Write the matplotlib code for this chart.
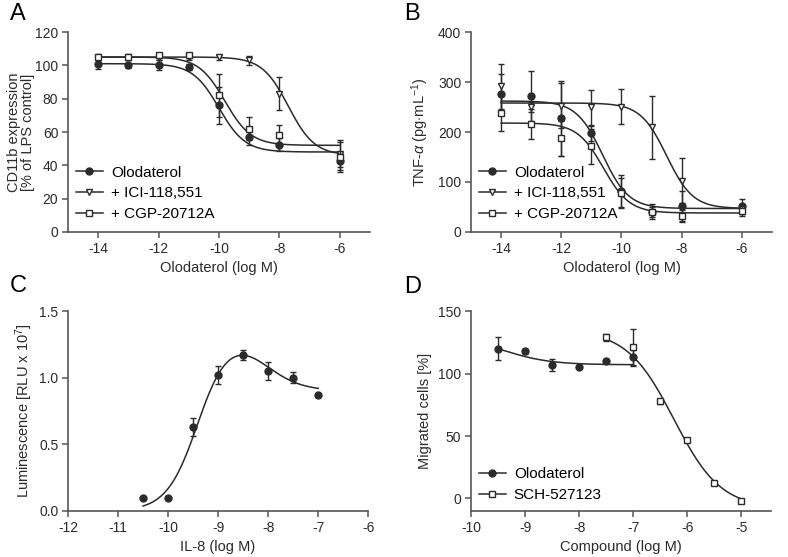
import numpy as np
import matplotlib
matplotlib.use('Agg')
import matplotlib.pyplot as plt

plt.rcParams['font.family'] = ['Liberation Sans', 'DejaVu Sans']
plt.rcParams['mathtext.fontset'] = 'custom'
plt.rcParams['mathtext.rm'] = 'Liberation Sans'
plt.rcParams['mathtext.it'] = 'Liberation Sans:italic'
plt.rcParams['axes.unicode_minus'] = False

# ---- panel A: CD11b expression ----
a_x = [-14, -13, -12, -11, -10, -9, -8, -6]
a_olo = [101, 100, 100, 99, 76, 57, 52.5, 42.5]
a_olo_err = [3, 1.5, 3, 2, 11, 5, 4, 5]
a_ici = [105, 105, 105, 105, 105, 103, 83, 47]
a_ici_err = [1.5, 1.5, 1.5, 1.5, 1.5, 2.5, 10, 8]
a_cgp = [105, 105, 106, 106, 82, 62, 58, 45]
a_cgp_err = [1.5, 1.5, 1.5, 1.5, 13, 7, 6, 9]
# fitted curves: top, bottom, logEC50, hill
a_fit_olo = [101, 48, -10.0, 1.0]
a_fit_ici = [105, 46, -7.7, 1.0]
a_fit_cgp = [105, 52, -9.8, 1.0]

# ---- panel B: TNF-alpha ----
b_x = [-14, -13, -12, -11, -10, -9, -8, -6]
b_olo = [277, 272, 228, 198, 82, 40, 52, 51]
b_olo_err = [40, 50, 75, 15, 33, 15, 30, 15]
b_ici = [292, 250, 253, 250, 251, 210, 103, 45]
b_ici_err = [45, 10, 45, 35, 35, 63, 45, 8]
b_cgp = [238, 216, 188, 172, 78, 40, 32, 42]
b_cgp_err = [35, 30, 35, 35, 30, 10, 12, 10]
b_fit_olo = [262, 47, -10.63, 1.0]
b_fit_ici = [258, 47, -8.5, 1.0]
b_fit_cgp = [218, 38, -10.6, 1.0]

# ---- panel C: luminescence ----
c_x = [-10.5, -10, -9.5, -9, -8.5, -8, -7.5, -7]
c_y = [0.10, 0.10, 0.63, 1.02, 1.17, 1.05, 1.00, 0.87]
c_err = [0, 0, 0.07, 0.07, 0.04, 0.07, 0.04, 0.01]
# bell-shaped fit: rise top, rise logEC50, rise hill, fall depth, fall logEC50, fall hill
c_fit = [1.35, -9.4, 1.4, 0.45, -8.1, 1.2]

# ---- panel D: migration ----
d_olo_x = [-9.5, -9, -8.5, -8, -7.5, -7]
d_olo = [120, 118, 107, 105, 110, 113]
d_olo_err = [9, 2, 5, 0, 0, 6]
d_sch_x = [-7.5, -7, -6.5, -6, -5.5, -5]
d_sch = [129, 121, 78, 47, 12, -2]
d_sch_err = [3, 15, 2, 1, 1, 1]
d_fit_olo = [130, 107, -9.4, 1.0]
d_fit_sch = [135, -8, -6.25, 1.0]

dark = '#2b2b2b'
gray = '#555555'
MS = 5


def sig(x, p):
    top, bot, ec, h = p
    return bot + (top - bot) / (1 + 10 ** ((x - ec) * h))


def style(ax):
    for s in ['top', 'right']:
        ax.spines[s].set_visible(False)
    for s in ['left', 'bottom']:
        ax.spines[s].set_color(gray)
        ax.spines[s].set_linewidth(1.2)
    ax.tick_params(colors=gray, labelcolor=dark, labelsize=10, width=1.1, length=4, pad=3)


def series(ax, x, y, err, marker, face, label, fit, xr):
    xs = np.linspace(xr[0], xr[1], 200)
    ax.plot(xs, fit(xs), color=dark, lw=1.1)
    ax.errorbar(x, y, yerr=err, fmt='none', ecolor=dark, elinewidth=1.0, capsize=2.5)
    ax.plot(x, y, ls='none', marker=marker, ms=MS, mfc=face, mec=dark, mew=1.0)
    ax.plot([], [], color=dark, lw=1.1, marker=marker, ms=MS, mfc=face, mec=dark, label=label)


fig = plt.figure(figsize=(7.88, 5.57), dpi=100)
axA = fig.add_axes([0.0863, 0.5835, 0.383, 0.359])
axB = fig.add_axes([0.5977, 0.5835, 0.382, 0.359])
axC = fig.add_axes([0.0863, 0.0826, 0.381, 0.359])
axD = fig.add_axes([0.5977, 0.0826, 0.381, 0.359])

# A
series(axA, a_x, a_olo, a_olo_err, 'o', dark, 'Olodaterol', lambda t: sig(t, a_fit_olo), (-14, -6))
series(axA, a_x, a_ici, a_ici_err, 'v', 'white', '+ ICI-118,551', lambda t: sig(t, a_fit_ici), (-14, -6))
series(axA, a_x, a_cgp, a_cgp_err, 's', 'white', '+ CGP-20712A', lambda t: sig(t, a_fit_cgp), (-14, -6))
axA.set_xlim(-15, -5)
axA.set_ylim(0, 120)
axA.set_xticks([-14, -12, -10, -8, -6])
axA.set_yticks(range(0, 121, 20))
axA.set_xlabel('Olodaterol (log M)', fontsize=10.5, color=dark)
axA.set_ylabel('CD11b expression\n[% of LPS control]', fontsize=10.5, color=dark, linespacing=1.0)
axA.yaxis.set_label_coords(-0.11, 0.5)

# B
series(axB, b_x, b_olo, b_olo_err, 'o', dark, 'Olodaterol', lambda t: sig(t, b_fit_olo), (-14, -6))
series(axB, b_x, b_ici, b_ici_err, 'v', 'white', '+ ICI-118,551', lambda t: sig(t, b_fit_ici), (-14, -6))
series(axB, b_x, b_cgp, b_cgp_err, 's', 'white', '+ CGP-20712A', lambda t: sig(t, b_fit_cgp), (-14, -6))
axB.set_xlim(-15, -5)
axB.set_ylim(0, 400)
axB.set_xticks([-14, -12, -10, -8, -6])
axB.set_yticks(range(0, 401, 100))
axB.set_xlabel('Olodaterol (log M)', fontsize=10.5, color=dark)
axB.set_ylabel(r'TNF-$\alpha$ (pg$\cdot$mL$^{-1}$)', fontsize=10.5, color=dark)
axB.yaxis.set_label_coords(-0.133, 0.5)


# C
def bell(x):
    top, ec1, h1, d, ec2, h2 = c_fit
    return top / (1 + 10 ** ((ec1 - x) * h1)) - d / (1 + 10 ** ((ec2 - x) * h2))


xs = np.linspace(-10.5, -7, 200)
axC.plot(xs, bell(xs), color=dark, lw=1.1)
axC.errorbar(c_x, c_y, yerr=c_err, fmt='none', ecolor=dark, elinewidth=1.0, capsize=2.5)
axC.plot(c_x, c_y, ls='none', marker='o', ms=MS, mfc=dark, mec=dark)
axC.set_xlim(-12, -6)
axC.set_ylim(0, 1.5)
axC.set_xticks(range(-12, -5))
axC.set_yticks([0, 0.5, 1.0, 1.5])
axC.set_yticklabels(['0.0', '0.5', '1.0', '1.5'])
axC.set_xlabel('IL-8 (log M)', fontsize=10.5, color=dark)
axC.set_ylabel(r'Luminescence [RLU x 10$^7$]', fontsize=10.5, color=dark)
axC.yaxis.set_label_coords(-0.11, 0.5)

# D
series(axD, d_olo_x, d_olo, d_olo_err, 'o', dark, 'Olodaterol', lambda t: sig(t, d_fit_olo), (-9.5, -7))
series(axD, d_sch_x, d_sch, d_sch_err, 's', 'white', 'SCH-527123', lambda t: sig(t, d_fit_sch), (-7.5, -5))
axD.set_xlim(-10, -4.45)
axD.set_ylim(-10, 150)
axD.set_xticks(range(-10, -4))
axD.set_yticks([0, 50, 100, 150])
axD.set_xlabel('Compound (log M)', fontsize=10.5, color=dark)
axD.set_ylabel('Migrated cells [%]', fontsize=10.5, color=dark)
axD.yaxis.set_label_coords(-0.13, 0.5)

for ax in [axA, axB, axC, axD]:
    style(ax)

leg_kw = dict(loc='lower left', frameon=False, fontsize=11, handlelength=1.8,
              labelspacing=0.45, handletextpad=0.5, borderaxespad=0.3)
axA.legend(bbox_to_anchor=(-0.01, 0.0), **leg_kw)
axB.legend(bbox_to_anchor=(-0.01, 0.0), **leg_kw)
axD.legend(bbox_to_anchor=(-0.01, -0.01), **leg_kw)

for lab, x, y in [('A', 0.012, 0.975), ('B', 0.513, 0.975), ('C', 0.012, 0.487), ('D', 0.513, 0.485)]:
    fig.text(x, y, lab, fontsize=17, color='black', va='center')

fig.savefig('out.png', dpi=100)
